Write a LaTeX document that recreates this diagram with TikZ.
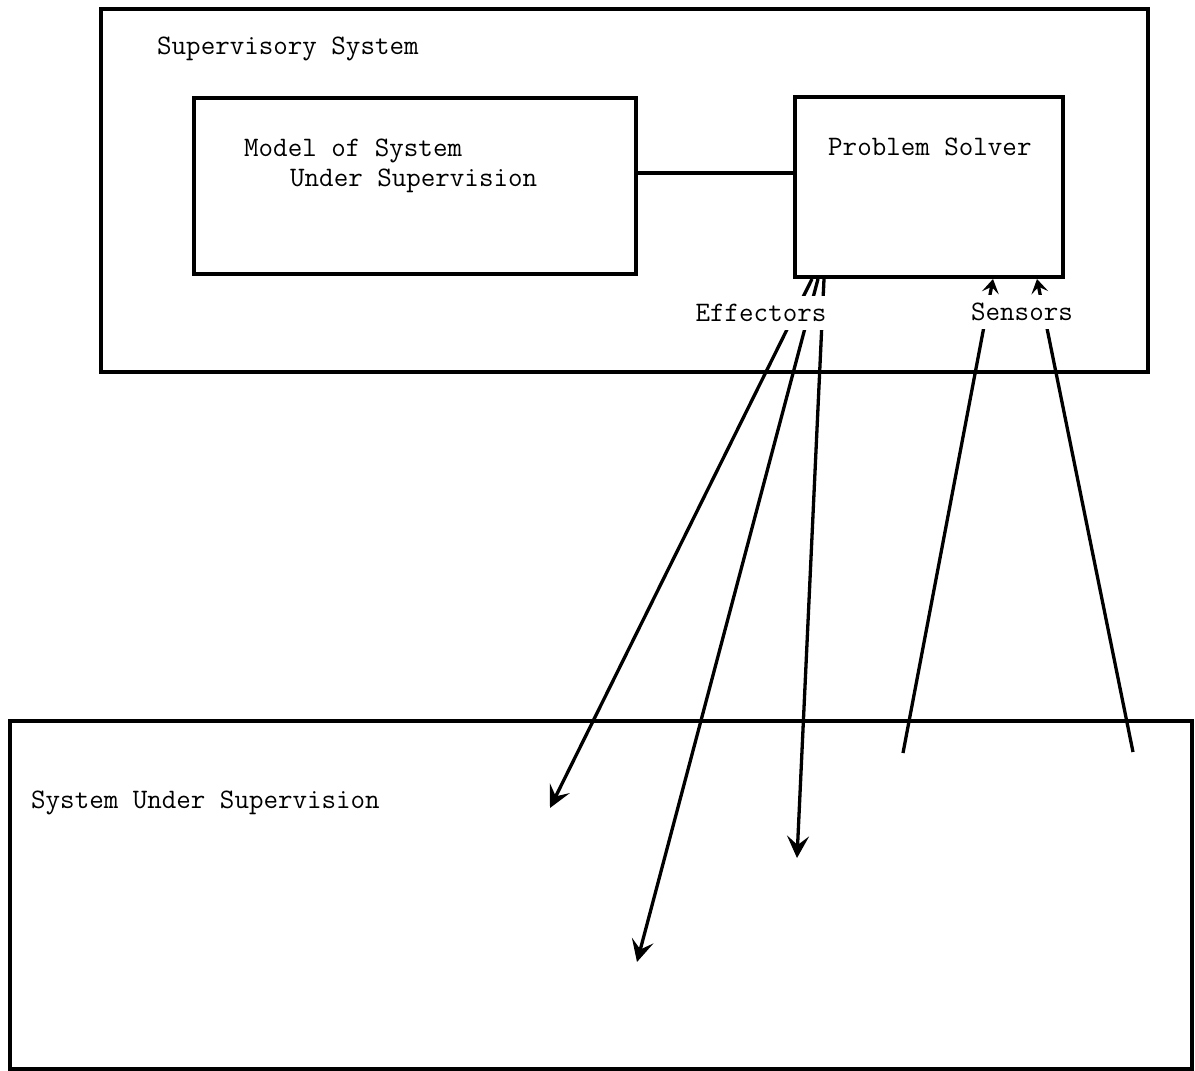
\documentclass[tikz,border=0pt]{standalone}
\usetikzlibrary{arrows.meta}
\begin{document}
\begin{tikzpicture}[x=1pt,y=-1pt,
  box/.style={draw, line width=3.5pt, outer sep=0pt, inner sep=0pt, anchor=north west},
  lbl/.style={inner sep=0pt, anchor=west, font=\fontsize{28.2}{33}\selectfont\ttfamily},
  gaplbl/.style={inner xsep=4pt, inner ysep=8pt, fill=white, font=\fontsize{28.2}{33}\selectfont\ttfamily},
  conn/.style={line width=3.3pt},
  effarrow/.style={conn, -{Stealth[length=22pt,width=22pt,inset=9pt]}},
  senarrow/.style={conn, -{Stealth[length=14pt,width=17pt,inset=6pt]}}]
\useasboundingbox (0,0) rectangle (1195,1071);
% boxes
\node[box, minimum width=1047pt, minimum height=363pt] (sup) at (101,9) {};
\node[box, minimum width=442pt, minimum height=176pt] (model) at (194,98) {};
\node[box, minimum width=268pt, minimum height=180pt] (ps) at (795,97) {};
\node[box, minimum width=1182pt, minimum height=348pt] (sus) at (10,721) {};
% labels
\node[lbl] (tsup) at (157,49) {Supervisory System};
\node[lbl] (tmodel1) at (244,151) {Model of System};
\node[lbl] (tmodel2) at (290,181) {Under Supervision};
\node[lbl] (tps) at (828,147) {Problem Solver};
\node[lbl] (tsus) at (31,803) {System Under Supervision};
% model -- problem solver
\draw[conn] (model.east |- 0,173) coordinate (m1) -- (ps.west |- 0,173) coordinate (p1);
% effector coordinates
\coordinate (e1s) at (812,279);
\coordinate (e2s) at (818,279);
\coordinate (e3s) at (824,279);
\coordinate (e1) at (550,808);
\coordinate (e2) at (637,962);
\coordinate (e3) at (797,858);
\draw[effarrow] (e1s) -- (e1);
\draw[effarrow] (e2s) -- (e2);
\draw[effarrow] (e3s) -- (e3);
% sensor coordinates
\coordinate (s1) at (903,753);
\coordinate (s2) at (1133,752);
\coordinate (s1e) at (993,279);
\coordinate (s2e) at (1037,279);
\draw[senarrow] (s1) -- (s1e);
\draw[senarrow] (s2) -- (s2e);
% labels that interrupt the lines
\node[gaplbl] (teff) at (761,313) {Effectors};
\node[gaplbl] (tsen) at (1022,312) {Sensors};
\end{tikzpicture}
\end{document}
